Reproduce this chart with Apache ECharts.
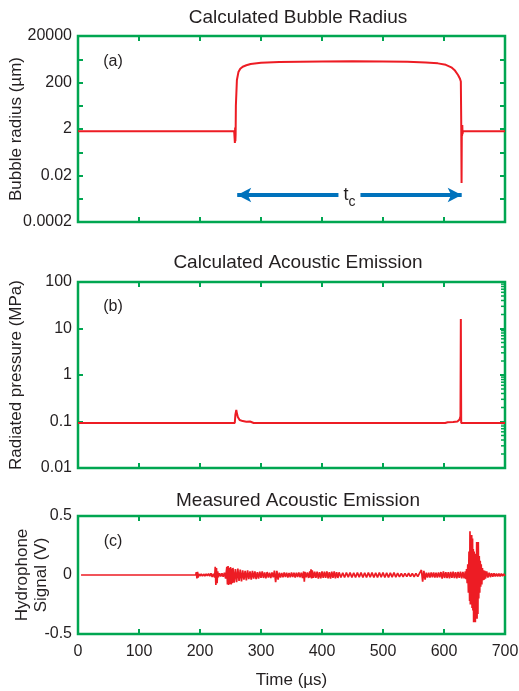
<!DOCTYPE html>
<html>
<head>
<meta charset="utf-8">
<title>Bubble Radius / Acoustic Emission</title>
<script src="https://cdn.jsdelivr.net/npm/echarts@6/dist/echarts.min.js"></script>
<style>
html, body { margin: 0; padding: 0; background: #fff; }
#main { width: 519px; height: 691px; }
</style>
</head>
<body>
<div id="main"></div>
<script>
// 刻度标签
var radiusLabels = ['0.0002', '0.02', '2', '200', '20000'];
var pressureLabels = ['0.01', '0.1', '1', '10', '100'];
var hydroLabels = ['-0.5', '0', '0.5'];

// (a) 气泡半径 [时间 us, 半径 um]
var radiusData = [
    [0, 1.6], [256, 1.6], [256.8, 1.9], [257.2, 0.5], [257.6, 2.3], [258, 0.6], [258.4, 1.2],
    [258.8, 20], [259.6, 22], [260.5, 256], [263, 560], [266, 780], [270, 950], [276, 1100],
    [283, 1250], [300, 1420], [330, 1530], [364, 1580], [400, 1620], [450, 1630], [500, 1610],
    [540, 1550], [570, 1450], [590, 1330], [603, 1150], [612, 900], [618, 650], [623, 420],
    [626, 300], [627.6, 220], [628.2, 5], [628.8, 0.0096], [629.2, 1.8], [629.6, 1.0],
    [630, 3.0], [630.4, 1.2], [631, 1.6], [700, 1.6]
];

// (b) 辐射压力 [时间 us, MPa]
var pressureData = [
    [0, 0.093], [257, 0.093], [258, 0.14], [259.5, 0.177], [260.5, 0.15], [262, 0.125],
    [265, 0.108], [270, 0.102], [276, 0.099], [282, 0.1], [285, 0.096], [288, 0.093],
    [602, 0.093], [606, 0.096], [615, 0.098], [622, 0.1], [625.5, 0.11], [627, 0.13],
    [627.6, 16], [628.2, 0.093], [700, 0.093]
];

// (c) 水听器信号 [时间 us, V]
var hydroData = [
    [5, 0], [193, 0],
    [194, 0.025], [195, -0.028], [196, 0.027], [197, -0.022], [198, 0.01], [200, -0.008], [202, 0.009],
    [204, -0.01], [206, 0.008], [208, -0.009], [210, 0.01], [212, -0.008], [214, 0.012], [216, -0.01],
    [218, 0.015], [220, -0.017], [222, 0.01], [224, -0.02],
    [225, 0.07], [226, -0.085], [227, 0.06], [228, -0.07], [229, 0.03], [230, -0.02], [232, 0.015],
    [234, -0.012], [236, 0.014], [238, -0.015], [240, 0.02], [242, -0.03],
    [244, 0.07], [245, -0.08], [246, 0.075], [247, -0.085], [248, 0.06], [249, -0.075], [250, 0.068],
    [251, -0.08], [252, 0.055], [253, -0.07], [254, 0.06], [256, -0.065], [258, 0.05], [260, -0.06],
    [262, 0.055], [264, -0.05], [266, 0.045], [268, -0.055], [270, 0.04], [272, -0.04], [274, 0.035],
    [276, -0.045], [278, 0.04], [280, -0.035], [282, 0.03], [284, -0.04], [286, 0.035], [288, -0.03],
    [290, 0.03], [292, -0.035], [294, 0.025], [296, -0.03], [298, 0.028], [300, -0.025], [302, 0.03],
    [304, -0.025], [306, 0.022], [308, -0.028], [310, 0.025], [312, -0.022], [314, 0.02], [316, -0.025],
    [318, 0.022], [320, -0.02],
    [322, 0.037], [324, -0.06], [326, 0.035], [328, -0.04], [330, 0.02], [332, -0.022], [334, 0.018],
    [336, -0.02], [338, 0.022], [340, -0.018], [342, 0.02], [344, -0.022], [346, 0.018], [348, -0.02],
    [350, 0.022], [352, -0.018], [354, 0.02], [356, -0.022], [358, 0.02], [360, -0.018], [362, 0.022],
    [364, -0.02], [366, 0.02], [368, -0.025],
    [370, 0.03], [371, -0.056], [372, 0.025], [374, -0.02], [376, 0.022], [378, -0.025], [380, 0.03],
    [381, -0.02], [382, 0.048], [383, -0.03], [384, 0.04], [386, -0.025], [388, 0.028], [390, -0.025],
    [392, 0.028], [394, -0.03], [396, 0.025], [398, -0.028], [400, 0.03], [402, -0.025], [404, 0.028],
    [406, -0.025], [408, 0.03], [410, -0.028], [412, 0.025], [414, -0.03], [416, 0.028], [418, -0.025],
    [420, 0.03], [422, -0.028], [424, 0.025], [426, -0.025], [428, 0.022],
    [431, -0.02], [434, 0.018], [437, -0.02], [440, 0.02], [443, -0.018], [446, 0.02], [449, -0.02],
    [452, 0.018], [455, -0.02], [458, 0.02], [461, -0.018], [464, 0.02], [467, -0.02], [470, 0.018],
    [473, -0.02], [476, 0.02], [479, -0.018], [482, 0.02], [485, -0.02], [488, 0.018], [491, -0.02],
    [494, 0.02], [497, -0.018], [500, 0.02], [503, -0.02], [506, 0.018], [509, -0.02], [512, 0.018],
    [515, -0.018], [518, 0.02], [521, -0.018], [524, 0.016], [527, -0.016], [530, 0.014], [533, -0.015],
    [536, 0.014], [539, -0.014], [542, 0.015], [545, -0.014], [548, 0.014], [551, -0.015], [554, 0.014],
    [557, -0.014], [560, 0.016],
    [563, 0.042], [565, -0.056], [567, 0.035], [569, -0.04], [571, 0.02], [573, -0.022], [575, 0.02],
    [577, -0.022], [579, 0.022], [581, -0.02], [583, 0.022], [585, -0.022], [587, 0.02], [589, -0.022],
    [591, 0.022], [593, -0.02], [595, 0.025], [597, -0.03], [599, 0.03], [601, -0.025], [603, 0.024],
    [605, -0.026], [607, 0.025], [609, -0.028], [611, 0.026], [613, -0.025], [615, 0.028], [617, -0.026],
    [619, 0.025], [621, -0.028], [623, 0.027], [625, -0.025], [627, 0.028], [629, -0.028], [631, 0.026],
    [633, -0.028], [635, 0.03],
    [636, -0.035], [637, 0.05], [638, -0.07], [639, 0.09], [640, -0.15], [641, 0.2], [642, -0.22],
    [642.6, 0.37], [643.2, -0.25], [644, 0.3], [644.6, -0.2], [645.4, 0.34], [646, -0.28], [646.8, 0.31],
    [647.4, -0.3], [648, 0.22], [648.6, -0.4], [649.4, 0.2], [650, -0.36], [650.8, 0.18], [651.4, -0.4],
    [652, 0.15], [652.8, -0.3], [653.6, 0.28], [654.2, -0.37], [655, 0.2], [655.6, -0.33], [656.2, 0.28],
    [657, -0.2], [657.8, 0.16], [658.6, -0.15], [659.4, 0.12], [660.2, -0.1], [661, 0.09], [662, -0.08],
    [663, 0.06], [664, -0.045], [665, 0.04], [666, -0.04], [667, 0.035], [668, -0.03], [670, 0.03],
    [672, -0.022], [674, 0.02], [676, -0.018], [678, 0.015], [680, -0.015], [682, 0.014], [684, -0.013],
    [686, 0.012], [688, -0.013], [690, 0.012], [692, -0.012], [694, 0.012], [696, -0.01], [698, 0.01],
    [700, -0.008]
];

// t_c 箭头 (us) 与所在高度 (um)
var tcStart = 261;
var tcEnd = 629;
var tcLevel = 0.0029;

// (b) 右侧对数小刻度
var pressureMinor = [];
for (var k = -2; k < 2; k++) {
    for (var d = 2; d <= 9; d++) pressureMinor.push(d * Math.pow(10, k));
}

var green = '#00A651';
var red = '#ED1C24';
var blue = '#0072BC';
var ink = '#231F20';
var font = 'Liberation Sans, Arial, Helvetica, sans-serif';

initChart();

function lg(v) { return Math.log(v) / Math.LN10; }

function tick() {
    return { show: true, inside: true, length: 5, lineStyle: { color: green, width: 2 } };
}

// x 轴: 底部 + 顶部
function xAxes(gi, last) {
    var bottom = {
        type: 'value', gridIndex: gi, min: 0, max: 700, interval: 100, position: 'bottom',
        axisLine: { show: false, onZero: false }, axisTick: tick(), splitLine: { show: false },
        axisLabel: { show: last, color: ink, fontSize: 16, fontFamily: font, margin: 10 }
    };
    if (last) {
        bottom.name = 'Time (\u00b5s)';
        bottom.nameLocation = 'middle';
        bottom.nameGap = 38;
        bottom.nameMoveOverlap = false;
        bottom.nameTextStyle = { color: ink, fontSize: 17, fontFamily: font };
    }
    var top = {
        type: 'value', gridIndex: gi, min: 0, max: 700, interval: 100, position: 'top',
        axisLine: { show: false, onZero: false }, axisTick: tick(), splitLine: { show: false },
        axisLabel: { show: false }
    };
    return [bottom, top];
}

// y 轴: 左 + 右
function yAxes(gi, min, max, interval, labelFn, name, gap, showTick) {
    var left = {
        type: 'value', gridIndex: gi, min: min, max: max, interval: interval, position: 'left',
        axisLine: { show: false, onZero: false }, splitLine: { show: false },
        axisTick: showTick ? tick() : { show: false },
        axisLabel: { color: ink, fontSize: 16, fontFamily: font, margin: 6, formatter: labelFn },
        name: name, nameLocation: 'middle', nameGap: gap, nameMoveOverlap: false,
        nameTextStyle: { color: ink, fontSize: 17, fontFamily: font, lineHeight: 19 }
    };
    var right = {
        type: 'value', gridIndex: gi, min: min, max: max, interval: interval, position: 'right',
        axisLine: { show: false, onZero: false }, splitLine: { show: false },
        axisTick: showTick ? tick() : { show: false },
        axisLabel: { show: false }
    };
    return [left, right];
}

function gridBox(top, height) {
    return { left: 78, top: top, width: 427, height: height, show: true, containLabel: false,
        outerBoundsMode: 'none',
        borderColor: green, borderWidth: 2.5, backgroundColor: 'transparent' };
}

function initChart() {
    var chart = echarts.init(document.getElementById('main'), null, { renderer: 'canvas' });

    var radiusFmt = function(v) {
        return (Math.round(v) % 2 === 0) ? radiusLabels[(Math.round(v) + 4) / 2] : '';
    };
    var pressureFmt = function(v) { return pressureLabels[Math.round(v) + 2]; };
    var hydroFmt = function(v) { return hydroLabels[Math.round(v * 2) + 1]; };

    var option = {
        animation: false,
        backgroundColor: '#fff',
        grid: [gridBox(36, 186), gridBox(282, 186), gridBox(516, 118)],
        xAxis: [].concat(xAxes(0, false), xAxes(1, false), xAxes(2, true)),
        yAxis: [].concat(
            yAxes(0, -4, 4, 1, radiusFmt, 'Bubble radius (\u00b5m)', 52, true),
            yAxes(1, -2, 2, 1, pressureFmt, 'Radiated pressure (MPa)', 52, true),
            yAxes(2, -0.5, 0.5, 0.5, hydroFmt, 'Hydrophone\nSignal (V)', 27, false)
        ),
        graphic: [
            { type: 'text', x: 298, y: 18, style: { text: 'Calculated Bubble Radius', fill: ink, font: '19px ' + font, align: 'center', verticalAlign: 'middle' } },
            { type: 'text', x: 298, y: 263, style: { text: 'Calculated Acoustic Emission', fill: ink, font: '19px ' + font, align: 'center', verticalAlign: 'middle' } },
            { type: 'text', x: 298, y: 501, style: { text: 'Measured Acoustic Emission', fill: ink, font: '19px ' + font, align: 'center', verticalAlign: 'middle' } },
            { type: 'text', x: 113, y: 62, style: { text: '(a)', fill: ink, font: '16px ' + font, align: 'center', verticalAlign: 'middle' } },
            { type: 'text', x: 113, y: 307, style: { text: '(b)', fill: ink, font: '16px ' + font, align: 'center', verticalAlign: 'middle' } },
            { type: 'text', x: 113, y: 542, style: { text: '(c)', fill: ink, font: '16px ' + font, align: 'center', verticalAlign: 'middle' } }
        ],
        series: [
            {
                name: 'radius', type: 'line', xAxisIndex: 0, yAxisIndex: 0,
                showSymbol: false, silent: true,
                lineStyle: { color: red, width: 2 },
                data: radiusData.map(function(p) { return [p[0], lg(p[1] / 2)]; }),
                markLine: {
                    silent: true, symbol: ['arrow', 'arrow'], symbolSize: [11, 14],
                    lineStyle: { color: blue, width: 4, type: 'solid' },
                    label: {
                        show: true, position: 'middle', distance: -14,
                        formatter: '{t|t}{c|c}', backgroundColor: '#fff', padding: [0, 5],
                        rich: {
                            t: { fontSize: 18, fontFamily: font, color: ink, lineHeight: 22, padding: [0, 0, 5, 0], verticalAlign: 'bottom' },
                            c: { fontSize: 14, fontFamily: font, color: ink, lineHeight: 22, verticalAlign: 'bottom' }
                        }
                    },
                    emphasis: { disabled: true },
                    data: [[{ coord: [tcStart, lg(tcLevel / 2)] }, { coord: [tcEnd, lg(tcLevel / 2)] }]]
                }
            },
            {
                name: 'pressure', type: 'line', xAxisIndex: 2, yAxisIndex: 2,
                showSymbol: false, silent: true,
                lineStyle: { color: red, width: 2 },
                data: pressureData.map(function(p) { return [p[0], lg(p[1])]; })
            },
            {
                name: 'minor', type: 'custom', xAxisIndex: 2, yAxisIndex: 2, silent: true,
                data: pressureMinor.map(function(v) { return [700, lg(v)]; }),
                renderItem: function(params, api) {
                    var p = api.coord([api.value(0), api.value(1)]);
                    return { type: 'line', shape: { x1: p[0], y1: p[1], x2: p[0] - 4, y2: p[1] },
                        style: { stroke: green, lineWidth: 1.5 } };
                }
            },
            {
                name: 'hydro', type: 'line', xAxisIndex: 4, yAxisIndex: 4,
                showSymbol: false, silent: true,
                lineStyle: { color: red, width: 1.7 },
                data: hydroData
            }
        ]
    };
    chart.setOption(option);
}
</script>
</body>
</html>
